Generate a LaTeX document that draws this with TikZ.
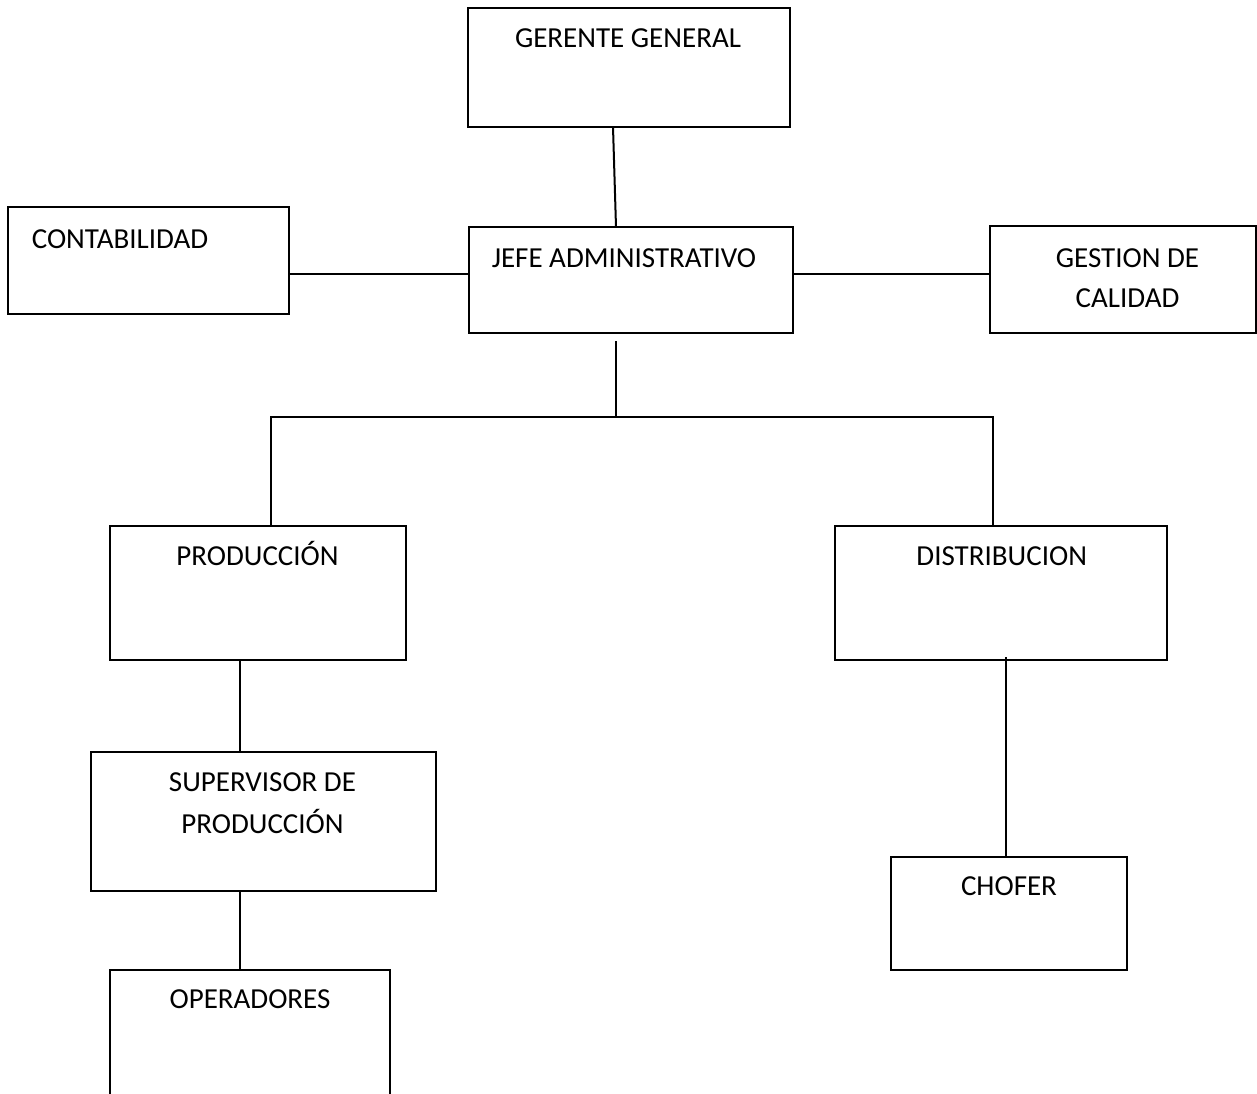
\documentclass[tikz,border=0pt]{standalone}
\usepackage{fontspec}
\setmainfont{Carlito}
\begin{document}
\begin{tikzpicture}[x=1pt,y=-1pt,
  unit/.style={draw, line width=2pt, inner sep=0pt, outer sep=0pt},
  caption/.style={anchor=base, inner sep=0pt, align=center, font=\fontsize{29}{34}\selectfont},
  link/.style={line width=2pt}]
\useasboundingbox (0,0) rectangle (1257,1093);

% organisation units
\node[unit, minimum width=322pt, minimum height=119pt] (gg)   at (629,67.5)   {};
\node[unit, minimum width=324pt, minimum height=106pt] (jefe) at (631,280)    {};
\node[unit, minimum width=281pt, minimum height=107pt] (cont) at (148.5,260.5){};
\node[unit, minimum width=266pt, minimum height=107pt] (gest) at (1123,279.5) {};
\node[unit, minimum width=296pt, minimum height=134pt] (prod) at (258,593)    {};
\node[unit, minimum width=332pt, minimum height=134pt] (dist) at (1001,593)   {};
\node[unit, minimum width=345pt, minimum height=139pt] (sup)  at (263.5,821.5){};
\node[unit, minimum width=236pt, minimum height=113pt] (chof) at (1009,913.5) {};
\node[unit, minimum width=280pt, minimum height=140pt] (oper) at (250,1040)   {};

% titles (multi-line titles are placed by the baseline of their last line)
\node[caption] (tgg)   at (628,47)    {GERENTE GENERAL};
\node[caption] (tjefe) at (624,267)   {JEFE ADMINISTRATIVO};
\node[caption] (tcont) at (120,248)   {CONTABILIDAD};
\node[caption, font=\fontsize{29}{40}\selectfont] (tgest) at (1127.5,307){GESTION DE\\CALIDAD};
\node[caption] (tprod) at (257.5,565) {PRODUCCIÓN};
\node[caption] (tdist) at (1001.7,565){DISTRIBUCION};
\node[caption, font=\fontsize{29}{41.5}\selectfont] (tsup) at (262.5,833) {SUPERVISOR DE\\PRODUCCIÓN};
\node[caption] (tchof) at (1009,895)  {CHOFER};
\node[caption] (toper) at (250,1008)  {OPERADORES};

% connectors
\coordinate (jt) at (616,341);
\coordinate (bus) at (616,417);
\coordinate (bl) at (271,417);
\coordinate (br) at (993,417);

\draw[link] ([xshift=-16pt]gg.south) -- ([xshift=-15pt]jefe.north);
\draw[link] (cont.east |- 0,274) -- (jefe.west |- 0,274);
\draw[link] (jefe.east |- 0,274) -- (gest.west |- 0,274);
\draw[link] (jt) -- (bus);
\draw[link] (prod.north -| bl) -- (bl) -- (br) -- (dist.north -| br);
\draw[link] (prod.south -| 240,0) -- (sup.north -| 240,0);
\draw[link] (sup.south -| 240,0) -- (oper.north -| 240,0);
\draw[link] ([yshift=3pt]dist.south -| 1006,0) -- (chof.north -| 1006,0);
\end{tikzpicture}
\end{document}
